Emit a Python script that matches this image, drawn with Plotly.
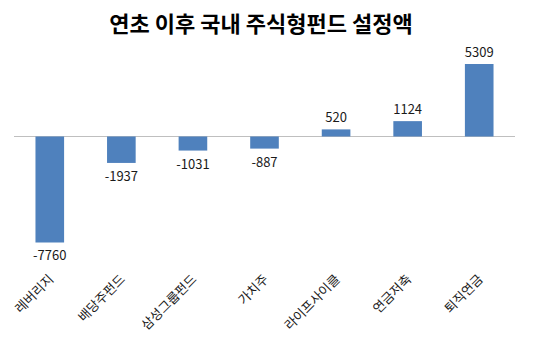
import plotly.graph_objects as go

categories = ["레버리지", "배당주펀드", "삼성그룹펀드", "가치주", "라이프사이클", "연금저축", "퇴직연금"]
values = [-7760, -1937, -1031, -887, 520, 1124, 5309]
title = "연초 이후 국내 주식형펀드 설정액"

fig = go.Figure()
fig.add_trace(go.Bar(
    x=categories, y=values,
    marker=dict(color="#4F81BD", line=dict(width=0)),
    text=[str(v) for v in values],
    textposition="outside",
    constraintext="none",
    textfont=dict(size=13, color="#1a1a1a", family="Noto Sans CJK KR"),
    cliponaxis=False,
))
fig.update_layout(
    width=540, height=352,
    margin=dict(l=10, r=25, t=40, b=84),
    paper_bgcolor="white", plot_bgcolor="white",
    bargap=0.6,
    showlegend=False,
    title=dict(text="<b>" + title + "</b>", x=261/540, xanchor="center", xref="container",
               y=1 - 24/352, yanchor="middle", yref="container",
               font=dict(size=22, color="#000000", family="Noto Sans CJK KR")),
    font=dict(family="Noto Sans CJK KR"),
)
fig.update_xaxes(tickangle=-45, showline=False, showgrid=False, ticks="",
                 tickfont=dict(size=13, color="#1a1a1a", family="Noto Sans CJK KR"))
fig.update_yaxes(range=[-9630, 7066], showticklabels=False, showgrid=False,
                 zeroline=True, zerolinecolor="#BFBFBF", zerolinewidth=1, showline=False)
fig.write_html("out.html")
